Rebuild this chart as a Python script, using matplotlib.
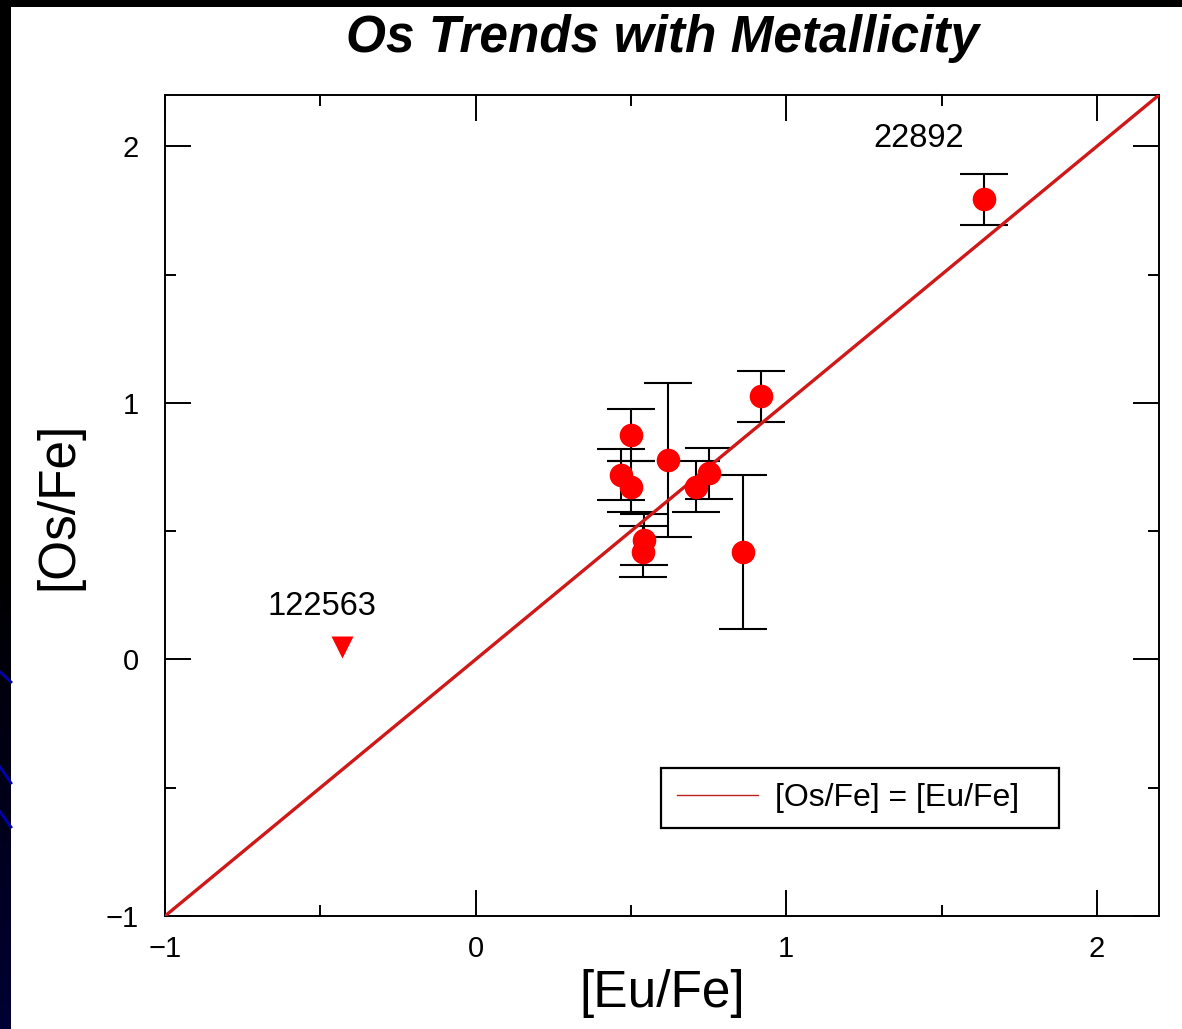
import numpy as np
import matplotlib
matplotlib.use("Agg")
import matplotlib.pyplot as plt
from matplotlib.lines import Line2D
from matplotlib.patches import Rectangle
from matplotlib.ticker import MultipleLocator

plt.rcParams['font.family'] = ['Liberation Sans', 'DejaVu Sans']

# measured stars: [Eu/Fe], [Os/Fe] and the error on [Os/Fe]
eu_fe = [0.50, 0.468, 0.50, 0.62, 0.71, 0.752, 0.543, 0.54, 0.86, 0.919, 1.637]
os_fe = [0.875, 0.72, 0.674, 0.776, 0.674, 0.726, 0.467, 0.42, 0.42, 1.025, 1.794]
os_err = [0.10, 0.10, 0.10, 0.30, 0.10, 0.10, 0.10, 0.10, 0.30, 0.10, 0.10]

# upper limit star
eu_lim = [-0.43]
os_lim = [0.047]

# star names shown on the plot
named = {"22892": (1.637, 1.794), "122563": (-0.43, 0.047)}
name_offsets = {"22892": (-65, 61), "122563": (-20, 41)}

x_range = [-1, 2.2]
y_range = [-1, 2.2]

W, H = 1182, 1029
fig = plt.figure(figsize=(W / 100, H / 100), dpi=100, facecolor='white')

# dark slide border on the left and top
strip = fig.add_axes([0, 0, 11 / W, 1])
grad = np.linspace(0, 1, 256).reshape(-1, 1)
blue = np.clip((grad - 0.55) * 0.45, 0, 1)
strip.imshow(np.dstack([grad * 0, grad * 0, blue]),
             aspect='auto', origin='upper', extent=[0, 1, 0, 1])
strip.set_axis_off()
for y0, y1 in [(672, 682), (767, 783), (812, 827)]:
    fig.add_artist(Line2D([0, 11 / W], [1 - y0 / H, 1 - y1 / H], color='#0000b0',
                          lw=2, transform=fig.transFigure))
top = fig.add_axes([0, 1 - 7 / H, 1, 7 / H])
top.set_facecolor('black')
top.set_xticks([])
top.set_yticks([])
for s in top.spines.values():
    s.set_visible(False)

ax = fig.add_axes([165 / W, (H - 916) / H, (1159 - 165) / W, (916 - 95) / H])

ax.errorbar(eu_fe, os_fe, yerr=os_err, fmt='none', ecolor='black',
            elinewidth=1.5, capsize=17, capthick=1.5, zorder=2)
ax.plot(x_range, y_range, color='#d01818', lw=2.4, zorder=3)
ax.plot(eu_fe, os_fe, 'o', color='#ff0000', markersize=17, mec='none', zorder=4)
ax.plot(eu_lim, os_lim, 'v', color='#ff0000', markersize=16, mec='none', zorder=4)

for name, (nx, ny) in named.items():
    dx, dy = name_offsets[name]
    ax.annotate(name, (nx, ny), xytext=(dx * 0.72, dy * 0.72), textcoords='offset points',
                ha='center', va='center', fontsize=23.5)

ax.set_xlim(x_range)
ax.set_ylim(y_range)
ax.xaxis.set_major_locator(MultipleLocator(1))
ax.yaxis.set_major_locator(MultipleLocator(1))
ax.xaxis.set_minor_locator(MultipleLocator(0.5))
ax.yaxis.set_minor_locator(MultipleLocator(0.5))
ax.tick_params(which='both', direction='in', top=True, right=True, width=1.4)
ax.tick_params(which='major', length=18.5, labelsize=21)
ax.tick_params(which='minor', length=8)
ax.tick_params(axis='x', pad=14)
ax.tick_params(axis='y', pad=19)
for s in ax.spines.values():
    s.set_linewidth(1.4)

ax.set_xlabel('[Eu/Fe]', fontsize=37, labelpad=4)
ax.set_ylabel('[Os/Fe]', fontsize=37, labelpad=16)

# legend entry, with its box drawn separately to match the wide right margin
handle = Line2D([0], [0], color='#c02020', lw=1.0)
ax.legend([handle], ['[Os/Fe] = [Eu/Fe]'], loc='center left',
          bbox_to_anchor=(0.515, 0.1437), borderaxespad=0, borderpad=0,
          fontsize=23, handlelength=2.54, handletextpad=0.53, frameon=False)
ax.add_patch(Rectangle((0.499, 0.107), 0.400, 0.073, transform=ax.transAxes,
                       fill=False, edgecolor='black', lw=1.6, zorder=5))

fig.text(663 / W, 1 - 52 / H, 'Os Trends with Metallicity', ha='center', va='baseline',
         fontsize=37, fontweight='bold', fontstyle='italic')

plt.savefig('out.png', dpi=100, facecolor='white')
